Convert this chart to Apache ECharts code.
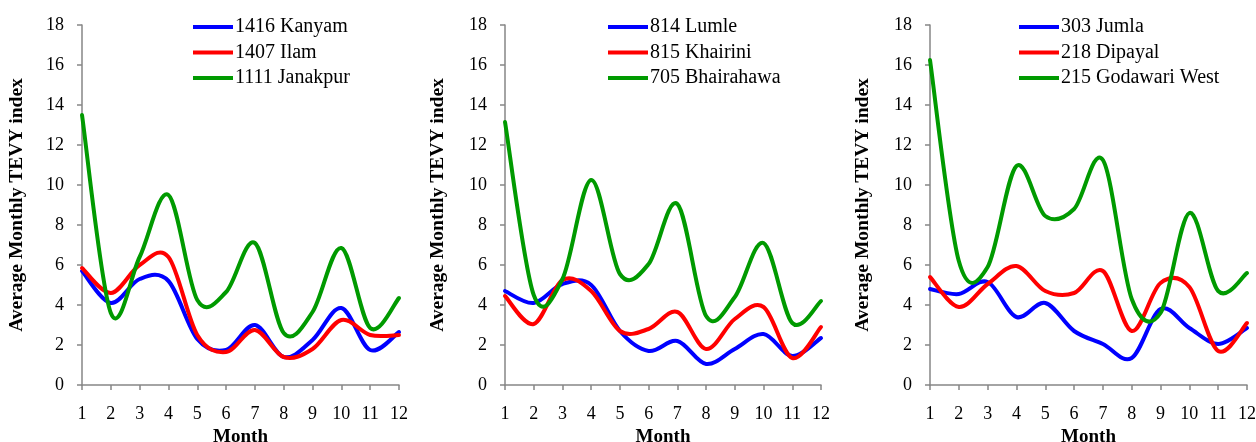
<!DOCTYPE html>
<html><head><meta charset="utf-8">
<script src="https://cdn.jsdelivr.net/npm/echarts@6/dist/echarts.min.js"></script>
<style>html,body{margin:0;padding:0;background:#fff}#c{width:1256px;height:442px}</style>
</head><body><div id="c"></div>
<script>
const months = [1,2,3,4,5,6,7,8,9,10,11,12];
const yTicks = [0,2,4,6,8,10,12,14,16,18];
const kanyam   = [5.7, 4.1, 5.3, 5.2, 2.3, 1.75, 3.0, 1.4, 2.25, 3.85, 1.75, 2.65];
const ilam     = [5.85, 4.6, 6.0, 6.4, 2.5, 1.65, 2.75, 1.4, 1.8, 3.25, 2.5, 2.5];
const janakpur = [13.5, 3.6, 6.4, 9.5, 4.25, 4.65, 7.1, 2.6, 3.65, 6.85, 2.85, 4.35];
const lumle      = [4.7, 4.1, 5.05, 5.0, 2.7, 1.7, 2.2, 1.05, 1.8, 2.55, 1.45, 2.35];
const khairini   = [4.45, 3.05, 5.25, 4.7, 2.7, 2.8, 3.65, 1.8, 3.3, 3.9, 1.35, 2.9];
const bhairahawa = [13.15, 4.5, 5.3, 10.25, 5.55, 6.05, 9.05, 3.45, 4.4, 7.1, 3.1, 4.2];
const jumla    = [4.8, 4.55, 5.15, 3.4, 4.1, 2.7, 2.05, 1.35, 3.8, 2.85, 2.05, 2.85];
const dipayal  = [5.4, 3.9, 5.05, 5.95, 4.7, 4.6, 5.7, 2.7, 5.1, 4.9, 1.7, 3.1];
const godawari = [16.25, 6.2, 5.9, 10.95, 8.45, 8.8, 11.25, 4.3, 3.6, 8.6, 4.7, 5.6];

const panels = [
  {names:['1416 Kanyam','1407 Ilam','1111 Janakpur'], data:[kanyam, ilam, janakpur]},
  {names:['814 Lumle','815 Khairini','705 Bhairahawa'], data:[lumle, khairini, bhairahawa]},
  {names:['303 Jumla','218 Dipayal','215 Godawari West'], data:[jumla, dipayal, godawari]}
];
const colors = ['#0000ff','#ff0000','#009a00'];
const grids = [
  {left:82, right:857, top:25, bottom:57, outerBoundsMode:'none', containLabel:false},
  {left:505, right:435, top:25, bottom:57, outerBoundsMode:'none', containLabel:false},
  {left:930, right:9, top:25, bottom:57, outerBoundsMode:'none', containLabel:false}
];
const legendPos = [{left:193, top:17},{left:608, top:17},{left:1019, top:17}];
const nameGaps = [55, 57, 57];
const font = 'Liberation Serif';
const axisCol = '#868686';

// Smoothed line (Excel-style cardinal spline) through the data points,
// positioned with the library's own coordinate conversion (api.coord).
function makeRender(values, color) {
  return function (params, api) {
    if (params.dataIndex !== 0) return {type:'group', children:[]};
    const pts = months.map((m, k) => api.coord([m, values[k]]));
    const n = pts.length;
    let d = 'M' + pts[0][0] + ' ' + pts[0][1];
    for (let i = 0; i < n - 1; i++) {
      const p0 = pts[Math.max(i - 1, 0)], p1 = pts[i], p2 = pts[i + 1], p3 = pts[Math.min(i + 2, n - 1)];
      const c1x = p1[0] + (p2[0] - p0[0]) / 6, c1y = p1[1] + (p2[1] - p0[1]) / 6;
      const c2x = p2[0] - (p3[0] - p1[0]) / 6, c2y = p2[1] - (p3[1] - p1[1]) / 6;
      d += ' C' + c1x + ' ' + c1y + ' ' + c2x + ' ' + c2y + ' ' + p2[0] + ' ' + p2[1];
    }
    return {
      type:'path', shape:{pathData:d},
      style:{fill:null, stroke:color, lineWidth:4, lineJoin:'round', lineCap:'round'}
    };
  };
}

const option = {
  animation:false,
  grid: grids,
  xAxis: grids.map((g,i)=>({
    type:'value', gridIndex:i, min:1, max:12, interval:1,
    name:'Month', nameLocation:'middle', nameGap:42,
    nameTextStyle:{fontFamily:font, fontWeight:'bold', fontSize:19, color:'#000'},
    axisLine:{show:true, onZero:false, lineStyle:{color:axisCol, width:1.5}},
    axisTick:{show:true, length:5, lineStyle:{color:axisCol, width:1.5}},
    axisLabel:{fontFamily:font, fontSize:18, color:'#000', margin:20},
    splitLine:{show:false}
  })),
  yAxis: grids.map((g,i)=>({
    type:'value', gridIndex:i, min:yTicks[0], max:yTicks[yTicks.length-1], interval:2,
    name:'Average Monthly TEVY index', nameLocation:'middle', nameGap:nameGaps[i],
    nameTextStyle:{fontFamily:font, fontWeight:'bold', fontSize:19.5, color:'#000'},
    axisLine:{show:true, onZero:false, lineStyle:{color:axisCol, width:1.5}},
    axisTick:{show:true, length:5, lineStyle:{color:axisCol, width:1.5}},
    axisLabel:{fontFamily:font, fontSize:18, color:'#000', margin:18},
    splitLine:{show:false}
  })),
  legend: panels.map((p,i)=>({
    data:p.names, orient:'vertical', left:legendPos[i].left, top:legendPos[i].top,
    padding:0, itemWidth:40, itemHeight:4, itemGap:5.5, icon:'rect',
    textStyle:{fontFamily:font, fontSize:20, color:'#000', padding:[0,0,0,-3]}
  })),
  series: []
};
panels.forEach((p,i)=>{
  p.names.forEach((n,j)=>{
    option.series.push({
      name:n, type:'custom', xAxisIndex:i, yAxisIndex:i,
      data: months.map((m,k)=>[m, p.data[j][k]]),
      encode:{x:0, y:1},
      itemStyle:{color:colors[j]},
      renderItem: makeRender(p.data[j], colors[j])
    });
  });
});
const chart = echarts.init(document.getElementById('c'), null, {renderer:'canvas'});
chart.setOption(option);
</script></body></html>
